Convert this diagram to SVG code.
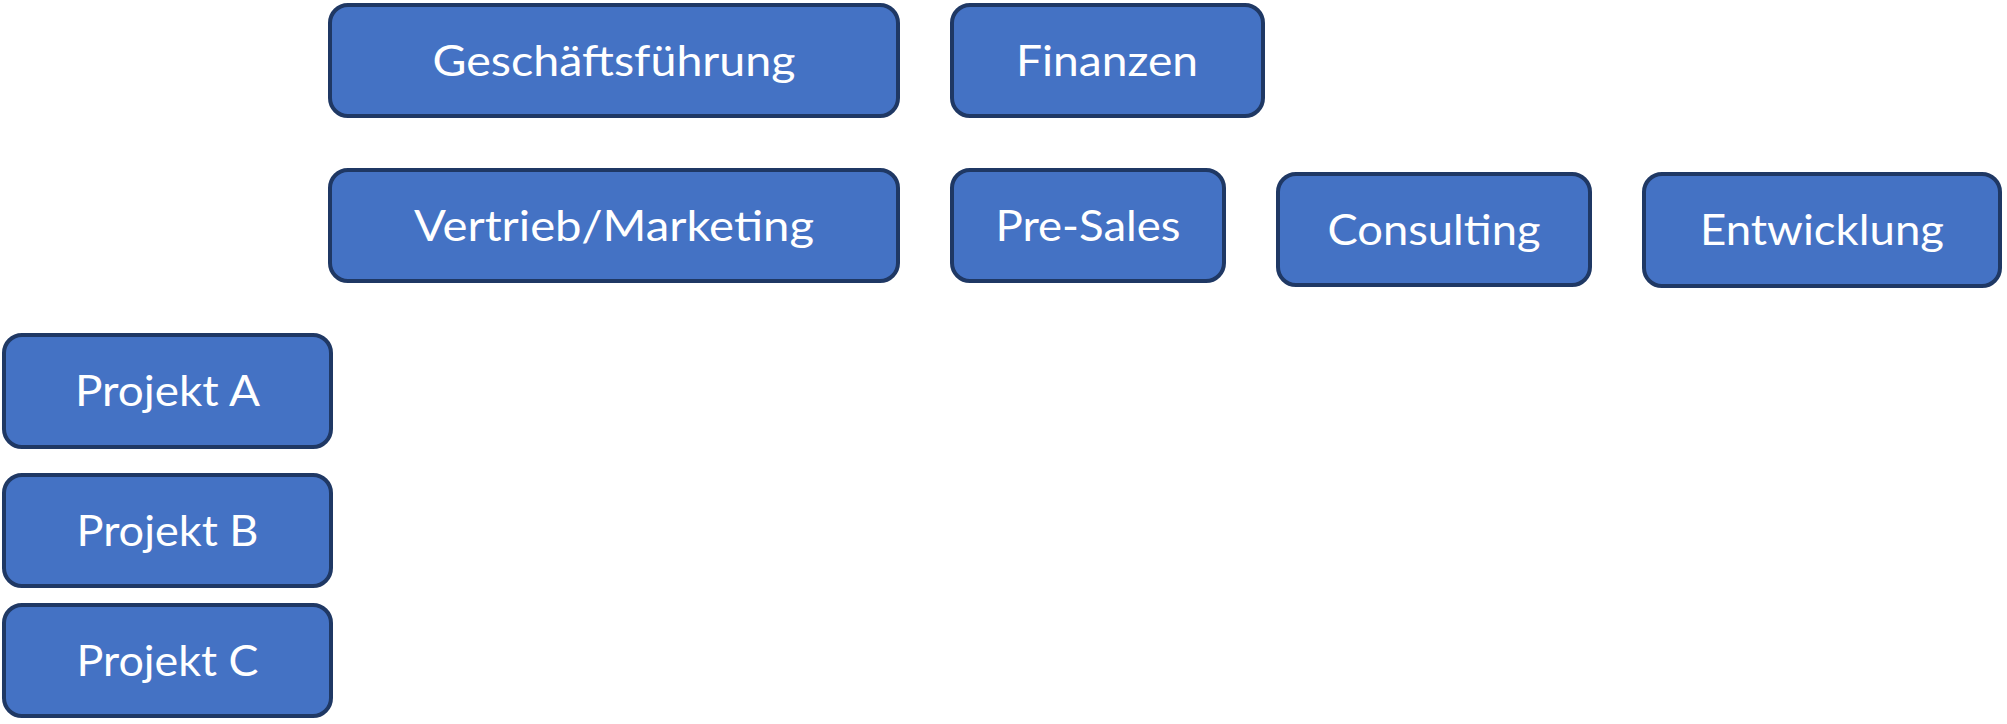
<svg xmlns="http://www.w3.org/2000/svg" width="2007" height="724" viewBox="0 0 2007 724">
<style>
.box{fill:#4472C4;stroke:#1F3864;stroke-width:4}
.lbl{fill:#FFFFFF;font-family:Lato,"Open Sans","Liberation Sans",sans-serif;font-size:43px;text-anchor:middle}
</style>
<rect width="2007" height="724" fill="#FFFFFF"/>
<g id="connectors"></g>
<g id="geschaeftsfuehrung"><rect class="box" x="330" y="5" width="568" height="111" rx="18"/><text class="lbl" x="614" y="76" textLength="363" lengthAdjust="spacingAndGlyphs">Geschäftsführung</text></g>
<g id="finanzen"><rect class="box" x="952" y="5" width="311" height="111" rx="18"/><text class="lbl" x="1107" y="76" textLength="182" lengthAdjust="spacingAndGlyphs">Finanzen</text></g>
<g id="vertrieb"><rect class="box" x="330" y="170" width="568" height="111" rx="18"/><text class="lbl" x="614" y="241" textLength="400" lengthAdjust="spacingAndGlyphs">Vertrieb/Marketing</text></g>
<g id="presales"><rect class="box" x="952" y="170" width="272" height="111" rx="18"/><text class="lbl" x="1088" y="241" textLength="185" lengthAdjust="spacingAndGlyphs">Pre-Sales</text></g>
<g id="consulting"><rect class="box" x="1278" y="174" width="312" height="111" rx="18"/><text class="lbl" x="1434" y="245" textLength="213" lengthAdjust="spacingAndGlyphs">Consulting</text></g>
<g id="entwicklung"><rect class="box" x="1644" y="174" width="356" height="112" rx="18"/><text class="lbl" x="1822" y="245" textLength="244" lengthAdjust="spacingAndGlyphs">Entwicklung</text></g>
<g id="projekt-a"><rect class="box" x="4" y="335" width="327" height="112" rx="18"/><text class="lbl" x="167.5" y="406" textLength="185" lengthAdjust="spacingAndGlyphs">Projekt A</text></g>
<g id="projekt-b"><rect class="box" x="4" y="475" width="327" height="111" rx="18"/><text class="lbl" x="167.5" y="546" textLength="182" lengthAdjust="spacingAndGlyphs">Projekt B</text></g>
<g id="projekt-c"><rect class="box" x="4" y="605" width="327" height="111" rx="18"/><text class="lbl" x="167.5" y="676" textLength="182" lengthAdjust="spacingAndGlyphs">Projekt C</text></g>
</svg>
